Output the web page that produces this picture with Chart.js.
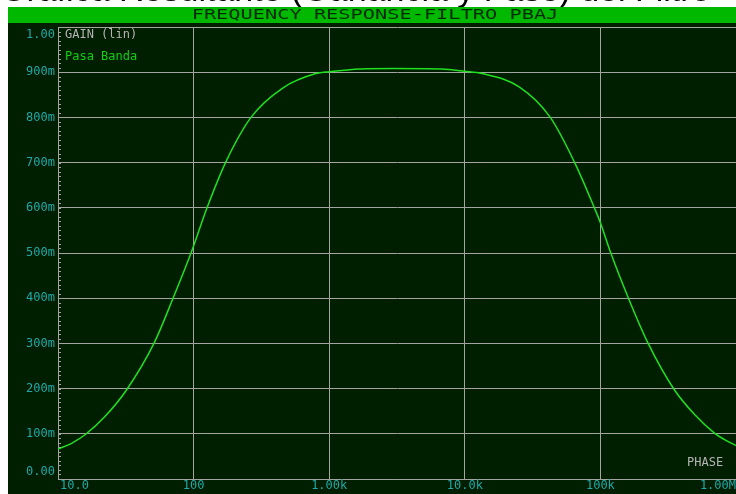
<!DOCTYPE html>
<html>
<head>
<meta charset="utf-8">
<script src="https://cdn.jsdelivr.net/npm/chart.js@4"></script>
<style>
    html, body { margin: 0; padding: 0; background: #ffffff; }
    #wrap { position: relative; width: 736px; height: 494px; }
</style>
</head>
<body>
<div id="wrap"><canvas id="freq-chart"></canvas></div>
<script>
    "use strict";

    // Data (frequency in Hz, gain linear)
    var freq = [10, 12.6, 16, 22, 32, 51, 71, 96, 126, 172, 265, 454, 798, 1000, 1700, 3000, 6700,
                10000, 13400, 25000, 42700, 64600, 90000, 100000, 119000, 161000, 225000,
                350000, 497000, 697000, 824000, 1000000];
    var gain = [0.066, 0.079, 0.099, 0.137, 0.197, 0.300, 0.402, 0.501, 0.601, 0.700, 0.800, 0.865, 0.897,
                0.901, 0.907, 0.908, 0.907, 0.902, 0.897, 0.868, 0.800, 0.700, 0.601, 0.567,
                0.501, 0.400, 0.300, 0.198, 0.142, 0.101, 0.087, 0.074];

    var xTicks = [10, 100, 1000, 10000, 100000, 1000000];
    var xTickLabels = ["10.0", "100", "1.00k", "10.0k", "100k", "1.00M"];
    var yTicks = [0, 0.1, 0.2, 0.3, 0.4, 0.5, 0.6, 0.7, 0.8, 0.9, 1.0];
    var yTickLabels = ["0.00", "100m", "200m", "300m", "400m", "500m", "600m", "700m", "800m", "900m", "1.00"];

    var chartTitle = "FREQUENCY RESPONSE-FILTRO PBAJ";
    var pageTitle = "Gráfica Resultante (Ganancia y Fase) del Filtro";
    var traceName = "Pasa Banda";

    var BG = "#001e00";
    var GRID = "#a4a4a0";
    var LABEL = "#20a8a8";
    var MONO = "'DejaVu Sans Mono', monospace";

    // Backgrounds, title bar, labels
    var frame = {
        id: "frame",
        beforeDraw: function (chart) {
            var ctx = chart.ctx;
            ctx.save();
            ctx.fillStyle = "#ffffff";
            ctx.fillRect(0, 0, chart.width, chart.height);
            ctx.fillStyle = "#000000";
            ctx.font = "34px 'Liberation Sans', Arial, sans-serif";
            ctx.textBaseline = "alphabetic";
            ctx.fillText(pageTitle, 0, 1);
            ctx.fillStyle = BG;
            ctx.fillRect(8, 23, chart.width - 8, chart.height - 23);
            ctx.fillStyle = "#00b800";
            ctx.fillRect(8, 7, chart.width - 8, 16);
            ctx.fillStyle = "#002a00";
            ctx.font = "14px " + MONO;
            ctx.textAlign = "center";
            ctx.textBaseline = "middle";
            ctx.translate(375, 15.5);
            ctx.scale(1.45, 1);
            ctx.fillText(chartTitle, 0, 0);
            ctx.restore();
        },
        afterDraw: function (chart) {
            var ctx = chart.ctx;
            var xs = chart.scales.x, ys = chart.scales.y;
            var left = chart.chartArea.left;
            ctx.save();
            // minor ticks on the gain axis
            ctx.strokeStyle = GRID;
            ctx.lineWidth = 1;
            ctx.beginPath();
            for (var i = 0; i <= 100; i++) {
                var py = Math.round(ys.getPixelForValue(i / 100)) + 0.5;
                ctx.moveTo(left, py);
                ctx.lineTo(left + 3, py);
            }
            ctx.stroke();

            ctx.font = "12px " + MONO;
            ctx.fillStyle = LABEL;
            ctx.textBaseline = "middle";
            ctx.textAlign = "right";
            yTicks.forEach(function (v, k) {
                var py = ys.getPixelForValue(v);
                if (k === yTicks.length - 1) py += 8;
                if (k === 0) py -= 7;
                ctx.fillText(yTickLabels[k], left - 3, py);
            });
            xTicks.forEach(function (v, k) {
                var px = xs.getPixelForValue(v);
                if (k === 0) { ctx.textAlign = "left"; px += 2; }
                else if (k === xTicks.length - 1) { ctx.textAlign = "right"; px = chart.width; }
                else { ctx.textAlign = "center"; }
                ctx.fillText(xTickLabels[k], px, 486);
            });

            ctx.textAlign = "left";
            ctx.fillStyle = "#b4b4b4";
            ctx.fillText("GAIN (lin)", left + 7, 35);
            ctx.fillStyle = "#10d010";
            ctx.fillText(traceName, left + 7, 57);
            ctx.fillStyle = "#b4b4b4";
            ctx.fillText("PHASE", 687, 463);
            ctx.restore();
        }
    };

    new Chart(document.getElementById("freq-chart"), {
        type: "line",
        data: {
            datasets: [{
                label: traceName,
                data: freq.map(function (f, i) { return { x: f, y: gain[i] }; }),
                borderColor: "#20e020",
                borderWidth: 1.5,
                pointRadius: 0,
                cubicInterpolationMode: "monotone",
                fill: false
            }]
        },
        options: {
            responsive: true,
            maintainAspectRatio: false,
            animation: false,
            layout: { padding: { top: 27, right: 0, bottom: 0, left: 0 } },
            plugins: {
                legend: { display: false },
                tooltip: { enabled: false }
            },
            scales: {
                x: {
                    type: "logarithmic",
                    min: 10,
                    max: 1000000,
                    afterBuildTicks: function (scale) {
                        scale.ticks = xTicks.map(function (v) { return { value: v }; });
                    },
                    afterFit: function (scale) { scale.height = 15; },
                    ticks: { display: false },
                    grid: { color: GRID, drawTicks: false, lineWidth: 1 },
                    border: { color: GRID }
                },
                y: {
                    min: 0,
                    max: 1,
                    afterBuildTicks: function (scale) {
                        scale.ticks = yTicks.map(function (v) { return { value: v }; });
                    },
                    afterFit: function (scale) { scale.width = 58; },
                    ticks: { display: false },
                    grid: { color: GRID, drawTicks: false, lineWidth: 1 },
                    border: { color: GRID }
                }
            }
        },
        plugins: [frame]
    });
</script>
</body>
</html>
